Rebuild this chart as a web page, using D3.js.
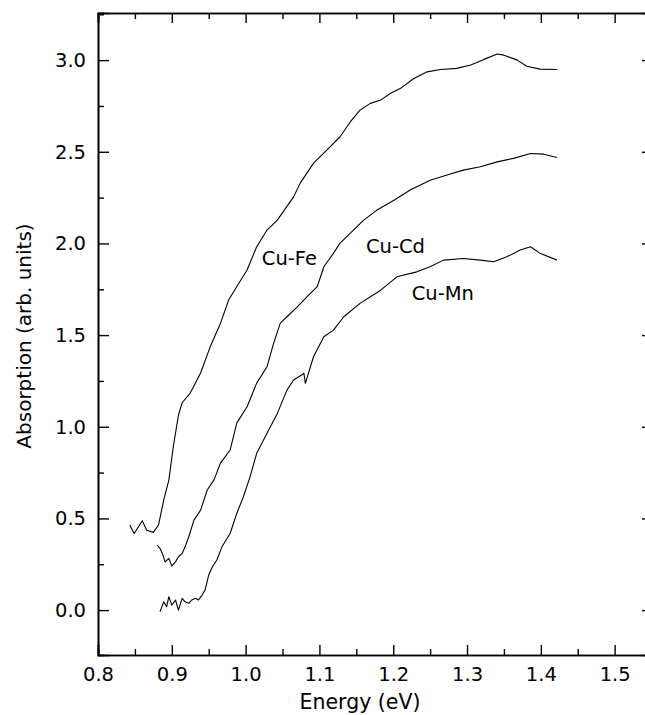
<!DOCTYPE html>
<meta charset="utf-8">
<script src="https://d3js.org/d3.v7.min.js"></script>
<style>
  body { margin: 0; background: #fff; }
  text { font-family: "DejaVu Sans", sans-serif; }
</style>
<div id="chart"></div>
<script>

// ---- data ----
const cuFeE = [0.843, 0.849, 0.860, 0.866, 0.875, 0.882, 0.889, 0.896, 0.902, 0.909, 0.914, 0.925, 0.939, 0.952, 0.966, 0.977, 0.991, 1.002, 1.015, 1.029, 1.043, 1.065, 1.074, 1.092, 1.110, 1.128, 1.142, 1.155, 1.169, 1.183, 1.196, 1.210, 1.228, 1.246, 1.264, 1.286, 1.305, 1.323, 1.341, 1.350, 1.368, 1.381, 1.399, 1.422];
const cuFeA = [0.464, 0.418, 0.487, 0.436, 0.424, 0.464, 0.600, 0.709, 0.891, 1.064, 1.131, 1.184, 1.293, 1.436, 1.565, 1.691, 1.784, 1.855, 1.982, 2.073, 2.127, 2.254, 2.329, 2.438, 2.509, 2.582, 2.664, 2.727, 2.764, 2.782, 2.818, 2.846, 2.900, 2.936, 2.949, 2.955, 2.973, 3.004, 3.033, 3.027, 3.000, 2.967, 2.951, 2.949];

const cuCdE = [0.880, 0.884, 0.888, 0.891, 0.896, 0.900, 0.905, 0.909, 0.914, 0.918, 0.923, 0.930, 0.939, 0.948, 0.957, 0.966, 0.979, 0.988, 1.002, 1.015, 1.029, 1.038, 1.047, 1.056, 1.070, 1.083, 1.097, 1.106, 1.119, 1.128, 1.142, 1.160, 1.178, 1.201, 1.223, 1.250, 1.273, 1.295, 1.318, 1.341, 1.363, 1.386, 1.404, 1.422];
const cuCdA = [0.355, 0.337, 0.300, 0.263, 0.282, 0.240, 0.263, 0.291, 0.309, 0.345, 0.400, 0.491, 0.545, 0.655, 0.709, 0.802, 0.873, 1.020, 1.109, 1.238, 1.327, 1.456, 1.565, 1.600, 1.654, 1.709, 1.764, 1.873, 1.946, 2.002, 2.056, 2.127, 2.182, 2.236, 2.291, 2.345, 2.373, 2.400, 2.418, 2.445, 2.464, 2.491, 2.487, 2.469];

const cuMnE = [0.884, 0.889, 0.893, 0.896, 0.900, 0.905, 0.909, 0.914, 0.918, 0.923, 0.927, 0.932, 0.936, 0.941, 0.945, 0.950, 0.955, 0.961, 0.968, 0.979, 0.988, 0.997, 1.006, 1.015, 1.029, 1.043, 1.056, 1.065, 1.079, 1.081, 1.092, 1.106, 1.119, 1.133, 1.155, 1.183, 1.205, 1.232, 1.250, 1.268, 1.295, 1.318, 1.336, 1.354, 1.372, 1.386, 1.399, 1.422];
const cuMnA = [-0.009, 0.045, 0.018, 0.073, 0.027, 0.055, 0.000, 0.064, 0.045, 0.037, 0.055, 0.064, 0.055, 0.082, 0.109, 0.191, 0.236, 0.273, 0.345, 0.418, 0.527, 0.618, 0.727, 0.855, 0.964, 1.073, 1.200, 1.255, 1.291, 1.237, 1.382, 1.491, 1.527, 1.600, 1.673, 1.745, 1.818, 1.845, 1.873, 1.909, 1.918, 1.909, 1.900, 1.927, 1.964, 1.982, 1.946, 1.909];

const seriesNames = ["Cu-Fe", "Cu-Cd", "Cu-Mn"];
const labelE = [1.022, 1.163, 1.225];
const labelA = [1.882, 1.947, 1.691];

const xTicks = [0.8, 0.9, 1.0, 1.1, 1.2, 1.3, 1.4, 1.5];
const yTicks = [0.0, 0.5, 1.0, 1.5, 2.0, 2.5, 3.0];

// ---- layout ----
const W = 645, H = 715;
const margin = {top: 13, right: -1, bottom: 60, left: 98};
const width = W - margin.left - margin.right,
      height = H - margin.top - margin.bottom;

const svg = d3.select("#chart").append("svg")
    .attr("width", W)
    .attr("height", H);
const g = svg.append("g")
    .attr("transform", `translate(${margin.left},${margin.top})`);

const x = d3.scaleLinear().domain([0.8, 1.5425]).range([0, width]);
const y = d3.scaleLinear().domain([-0.245, 3.257]).range([height, 0]);

// minor ticks every 0.05 / 0.25
const xMinor = d3.range(0.85, 1.55, 0.1);
const yMinor = d3.range(0.25, 3.3, 0.5);

const fmt = d3.format(".1f");

// bottom axis
g.append("g")
    .attr("class", "axis")
    .attr("transform", `translate(0,${height})`)
    .call(d3.axisBottom(x).tickValues(xTicks).tickSize(-10).tickPadding(12).tickFormat(fmt));
g.append("g")
    .attr("transform", `translate(0,${height})`)
    .call(d3.axisBottom(x).tickValues(xMinor).tickSize(-6).tickFormat(""));
// top axis
g.append("g")
    .call(d3.axisTop(x).tickValues(xTicks).tickSize(-10).tickFormat(""));
g.append("g")
    .call(d3.axisTop(x).tickValues(xMinor).tickSize(-6).tickFormat(""));
// left axis
g.append("g")
    .attr("class", "axis")
    .call(d3.axisLeft(y).tickValues(yTicks).tickSize(-11).tickPadding(12).tickFormat(fmt));
g.append("g")
    .call(d3.axisLeft(y).tickValues(yMinor).tickSize(-6).tickFormat(""));
// right axis
g.append("g")
    .attr("transform", `translate(${width},0)`)
    .call(d3.axisRight(y).tickValues(yTicks).tickSize(-4).tickFormat(""));

g.selectAll(".domain").attr("stroke", "#000").attr("stroke-width", 1.6);
g.selectAll(".tick line").attr("stroke", "#000").attr("stroke-width", 1.4);
g.selectAll(".axis text")
    .attr("fill", "#000")
    .style("font-size", "19.5px")
    .style("font-family", "'DejaVu Sans', sans-serif");

// axis titles
g.append("text")
    .attr("x", 360 - margin.left)
    .attr("y", height + 54)
    .attr("text-anchor", "middle")
    .style("font-size", "20.5px")
    .text("Energy (eV)");

g.append("text")
    .attr("transform", "rotate(-90)")
    .attr("x", -(336 - margin.top))
    .attr("y", -67)
    .attr("text-anchor", "middle")
    .style("font-size", "20px")
    .text("Absorption (arb. units)");

// curves
const line = d3.line()
    .x(d => x(d[0]))
    .y(d => y(d[1]));

const curves = [
  d3.zip(cuFeE, cuFeA),
  d3.zip(cuCdE, cuCdA),
  d3.zip(cuMnE, cuMnA)
];

g.selectAll(".curve")
  .data(curves)
  .join("path")
    .attr("class", "curve")
    .attr("d", line)
    .attr("fill", "none")
    .attr("stroke", "#000")
    .attr("stroke-width", 1.1)
    .attr("stroke-linejoin", "round");

// curve labels
g.selectAll(".lab")
  .data(seriesNames)
  .join("text")
    .attr("class", "lab")
    .attr("x", (d, i) => x(labelE[i]))
    .attr("y", (d, i) => y(labelA[i]))
    .style("font-size", "19.5px")
    .text(d => d);

</script>
